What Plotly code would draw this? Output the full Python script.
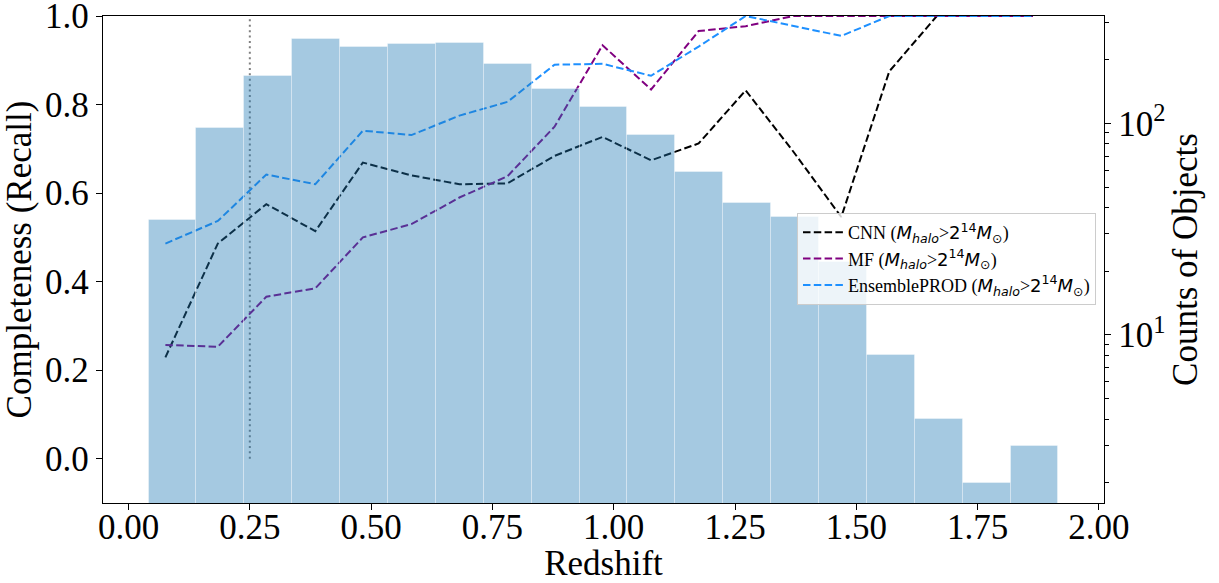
import plotly.graph_objects as go

# ---- data ----
bin_centers = [0.0906, 0.1893, 0.2880, 0.3867, 0.4854, 0.5841, 0.6828, 0.7815, 0.8802, 0.9789,
               1.0776, 1.1763, 1.2750, 1.3737, 1.4724, 1.5711, 1.6698, 1.7685, 1.8672]
bin_width = 0.0987
counts = [35, 95, 168, 250, 230, 236, 239, 190, 145, 120, 88, 59, 42, 36, 22, 8, 4, 2, 3]

z_points = [0.076, 0.184, 0.284, 0.385, 0.483, 0.583, 0.682, 0.781, 0.878, 0.977,
            1.077, 1.175, 1.272, 1.370, 1.469, 1.568, 1.666, 1.765, 1.864]
cnn = [0.229, 0.486, 0.575, 0.514, 0.669, 0.640, 0.620, 0.622, 0.684, 0.727,
       0.674, 0.712, 0.832, 0.694, 0.546, 0.875, 1.0, 1.0, 1.0]
mf = [0.257, 0.253, 0.366, 0.385, 0.500, 0.530, 0.590, 0.638, 0.750, 0.934,
      0.834, 0.966, 0.977, 1.0, 1.0, 1.0, 1.0, 1.0, 1.0]
ens = [0.486, 0.537, 0.642, 0.620, 0.741, 0.731, 0.775, 0.806, 0.890, 0.892,
       0.865, 0.931, 1.0, 0.977, 0.955, 1.0, 1.0, 1.0, 1.0]

z_cut = 0.25
x_ticks = [0.0, 0.25, 0.5, 0.75, 1.0, 1.25, 1.5, 1.75, 2.0]
y_ticks = [0.0, 0.2, 0.4, 0.6, 0.8, 1.0]
count_ticks = [10, 100]
count_minor = [2, 3, 4, 5, 6, 7, 8, 9, 20, 30, 40, 50, 60, 70, 80, 90, 200, 300]

SERIF = "Liberation Serif, Times New Roman, serif"
SANS = "DejaVu Sans"
math = (f"(<span style='font-family:{SANS}'><i>M</i><sub><i>halo</i></sub></span>&gt;"
        f"<span style='font-family:{SANS}'>2<sup>14</sup><i>M</i><sub>⊙</sub></span>)")

dash = "7.5px,3.3px"
fig = go.Figure()

fig.add_trace(go.Scatter(x=[z_cut, z_cut], y=[0, 1], mode="lines",
                         line=dict(color="gray", width=2, dash="2px,3.4px"),
                         showlegend=False, hoverinfo="skip"))
fig.add_trace(go.Scatter(x=z_points, y=cnn, mode="lines", name="CNN " + math,
                         line=dict(color="black", width=2, dash=dash)))
fig.add_trace(go.Scatter(x=z_points, y=mf, mode="lines", name="MF " + math,
                         line=dict(color="purple", width=2, dash=dash)))
fig.add_trace(go.Scatter(x=z_points, y=ens, mode="lines", name="EnsemblePROD " + math,
                         line=dict(color="dodgerblue", width=2, dash=dash)))

fig.add_trace(go.Bar(x=bin_centers, y=counts, width=bin_width, yaxis="y2",
                     marker=dict(color="rgba(31,119,180,0.4)",
                                 line=dict(color="rgba(255,255,255,0.35)", width=1)),
                     showlegend=False, hoverinfo="skip"))

axis_common = dict(showline=True, linecolor="black", linewidth=1.3, ticks="outside",
                   ticklen=6, tickwidth=1.3, tickcolor="black", showgrid=False,
                   zeroline=False, automargin=False, ticklabeloverflow="allow",
                   tickfont=dict(family=SERIF, size=35, color="black"))

fig.update_layout(
    width=1219, height=583,
    margin=dict(l=103, r=115, t=16, b=80),
    plot_bgcolor="white", paper_bgcolor="white",
    font=dict(family=SERIF, color="black"),
    bargap=0,
    xaxis=dict(range=[-0.0526, 2.0105], tickmode="array", tickvals=x_ticks,
               ticktext=[f"{v:.2f}" for v in x_ticks], mirror=True,
               ticklabelstandoff=-13,
               title=dict(text="Redshift", font=dict(family=SERIF, size=35), standoff=2),
               **axis_common),
    yaxis=dict(range=[-0.1, 1.00001], tickmode="array", tickvals=y_ticks,
               ticktext=[f"{v:.1f}" for v in y_ticks], mirror=True,
               title=dict(text="Completeness (Recall)", font=dict(family=SERIF, size=35), standoff=10),
               **axis_common),
    yaxis2=dict(type="log", overlaying="y", side="right", range=[0.206, 2.507],
                tickmode="array", tickvals=count_ticks,
                ticktext=["10<sup>1</sup>", "10<sup>2</sup>"],
                minor=dict(tickmode="array", tickvals=count_minor,
                           ticks="outside", ticklen=4, tickwidth=1, tickcolor="black"),
                title=dict(text="Counts of Objects", font=dict(family=SERIF, size=35), standoff=8),
                **axis_common),
    legend=dict(x=0.6933, y=0.5955, xanchor="left", yanchor="top", itemwidth=40,
                bgcolor="rgba(255,255,255,0.8)", bordercolor="#cccccc", borderwidth=1,
                font=dict(family=SERIF, size=18, color="black")),
)

fig.write_html("out.html")
